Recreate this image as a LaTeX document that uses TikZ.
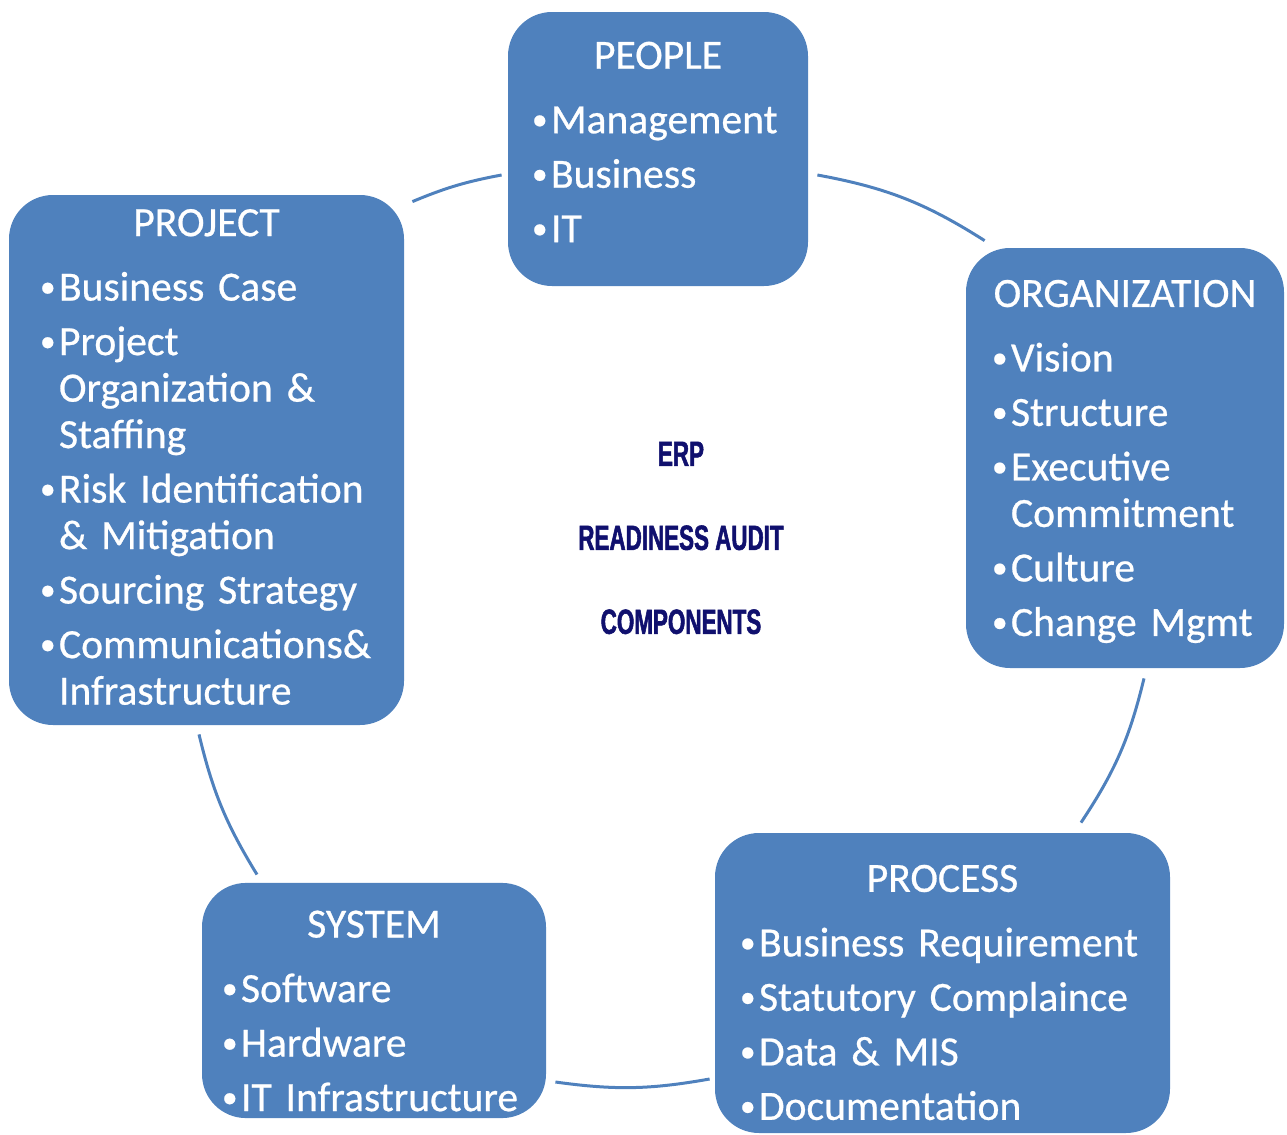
\documentclass[tikz,border=0pt]{standalone}
\usepackage{fontspec}
\setmainfont[FakeBold=0.6]{Carlito}
\newfontfamily\erpfont[FakeStretch=0.64,FakeBold=1.5]{Liberation Sans Bold}
\usepackage{xcolor}
\usepackage{tikz}

\definecolor{compblue}{HTML}{4F81BD}
\definecolor{erpnavy}{RGB}{16,16,110}
\newlength\bulw
\setlength\bulw{9.5pt}
\newcommand\itm[1]{\par\hangindent=\bulw\hangafter=1\noindent\makebox[\bulw][l]{\raisebox{1.8pt}{\scalebox{0.75}{•}}}#1}
\newcommand\ttl[2][0pt]{{\centering\rule{0pt}{\dimexpr 13pt+#1\relax}#2\par}\vspace{5pt}}
\newcommand\lift[1]{\par\vspace{#1}}

\begin{document}
\begin{tikzpicture}[x=0.5pt,y=-0.5pt]
\tikzstyle{comp}=[rectangle,rounded corners=22pt,fill=compblue,text=white,align=left,
  font=\fontsize{20.8pt}{23.25pt}\selectfont,
  execute at begin node={\setlength{\parskip}{4pt}\hyphenpenalty=10000}]
\tikzstyle{ring}=[draw=compblue,line width=1.5pt]
\useasboundingbox (0,0) rectangle (1287,1135);

\node[comp,inner xsep=12pt,text width=126pt,minimum height=137pt] (people) at (658,149)
  {\ttl{PEOPLE}\itm{Management}\itm{Business}\itm{IT}\lift{7pt}};
\node[comp,inner xsep=15.5pt,text width=166.5pt,minimum height=265pt] (project) at (206.5,460)
  {\ttl{PROJECT}\itm{Business~Case}\itm{Project\newline Organization~\&\newline Staffing}%
   \itm{Risk~Identification\newline \&~Mitigation}\itm{Sourcing~Strategy}%
   \itm{Communications\&\newline Infrastructure}\lift{3pt}};
\node[comp,inner xsep=13pt,text width=133pt,minimum height=210pt] (org) at (1125,458)
  {\ttl[4pt]{ORGANIZATION}\itm{Vision}\itm{Structure}\itm{Executive\newline Commitment}%
   \itm{Culture}\itm{Change~Mgmt}\par};
\node[comp,inner xsep=12.5pt,text width=202.5pt,minimum height=150pt] (process) at (942.5,983)
  {\ttl[10pt]{PROCESS}\itm{Business~Requirement}\itm{Statutory~Complaince}%
   \itm{Data~\&~MIS}\itm{Documentation}\par};
\node[comp,inner xsep=10pt,text width=152pt,minimum height=116.5pt] (system) at (374,1000.5)
  {\ttl[11pt]{SYSTEM}\itm{Software}\itm{Hardware}\itm{IT~Infrastructure}\par};

\node[font=\erpfont\fontsize{17.5pt}{42pt}\selectfont,text=erpnavy,align=center] (erp) at (681,538)
  {ERP\\READINESS AUDIT\\COMPONENTS};

% ring round the components
\draw[ring] ([shift={(-6,26)}]people.west) to[bend right=6] ([shift={(8,7)}]project.north east);
\draw[ring] ([shift={(9,26)}]people.east) to[bend left=11] ([shift={(19,-7)}]org.north west);
\draw[ring] ([shift={(19,10)}]org.south) to[bend left=10] ([shift={(138.5,-10)}]process.north);
\draw[ring] ([shift={(-5,96)}]process.west) to[bend left=9] ([shift={(9,81.5)}]system.east);
\draw[ring] ([shift={(-117,-8)}]system.north) to[bend left=9] ([shift={(-7.5,9)}]project.south);
\end{tikzpicture}
\end{document}
